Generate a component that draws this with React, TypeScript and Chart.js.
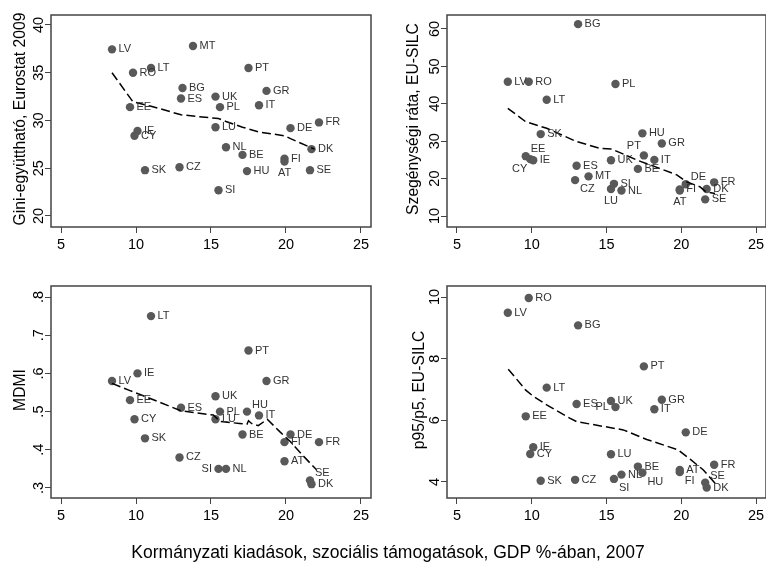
import React, { useEffect, useRef } from 'react';
import { Chart, registerables } from 'chart.js';

Chart.register(...registerables);

// ---------------- data ----------------
const countries = ['LV', 'RO', 'EE', 'CY', 'IE', 'SK', 'LT', 'CZ', 'ES', 'BG', 'MT', 'UK', 'LU', 'SI', 'PL', 'NL', 'BE', 'HU', 'PT', 'IT', 'GR', 'FI', 'AT', 'DE', 'SE', 'DK', 'FR'];
const socialSpending = [8.4, 9.8, 9.6, 9.9, 10.1, 10.6, 11.0, 12.9, 13.0, 13.1, 13.8, 15.3, 15.3, 15.5, 15.6, 16.0, 17.1, 17.4, 17.5, 18.2, 18.7, 19.9, 19.9, 20.3, 21.6, 21.7, 22.2];
const giniValues = [37.45, 35.0, 31.4, 28.4, 28.9, 24.8, 35.5, 25.1, 32.3, 33.4, 37.8, 32.5, 29.3, 22.7, 31.4, 27.2, 26.4, 24.7, 35.5, 31.6, 33.1, 26.0, 25.7, 29.2, 24.8, 27.0, 29.8];
const povertyValues = [45.9, 45.9, 26.0, 25.2, 24.9, 31.9, 41.1, 19.6, 23.45, 61.3, 20.6, 24.9, 17.2, 18.6, 45.3, 16.8, 22.6, 32.1, 26.2, 25.0, 29.4, 17.1, 16.8, 18.5, 14.45, 17.2, 19.0];
const mdmiValues = [0.58, null, 0.53, 0.48, 0.60, 0.43, 0.75, 0.38, 0.51, null, null, 0.54, 0.48, 0.35, 0.50, 0.35, 0.44, 0.50, 0.66, 0.49, 0.58, 0.42, 0.37, 0.44, 0.32, 0.31, 0.42];
const p95p5Values = [9.49, 9.97, 6.13, 4.91, 5.13, 4.04, 7.06, 4.07, 6.53, 9.08, null, 6.63, 4.9, 4.1, 6.43, 4.24, 4.5, 4.3, 7.75, 6.36, 6.67, 4.32, 4.39, 5.61, 3.98, 3.82, 4.56];

// lowess curves
const giniLowessX = [8.4, 9.8, 11.0, 13.0, 15.5, 16.0, 17.1, 18.2, 19.9, 20.3, 21.9];
const giniLowessY = [35.0, 31.95, 31.5, 30.6, 30.2, 29.9, 29.3, 28.8, 28.4, 28.1, 27.0];
const povertyLowessX = [8.4, 9.6, 11.0, 13.0, 14.56, 15.35, 17.13, 18.24, 19.7, 20.32, 21.26, 21.63, 22.26];
const povertyLowessY = [38.8, 35.2, 33.45, 29.9, 28.1, 27.9, 24.8, 23.2, 21.0, 19.2, 17.8, 16.5, 16.0];
const mdmiLowessX = [8.4, 9.6, 10.9, 13.0, 15.15, 15.6, 16.9, 17.4, 17.5, 17.7, 18.15, 18.75, 19.6, 20.3, 21.15, 22.05];
const mdmiLowessY = [0.574, 0.555, 0.535, 0.502, 0.491, 0.474, 0.469, 0.467, 0.476, 0.469, 0.463, 0.48, 0.447, 0.421, 0.384, 0.347];
const p95LowessX = [8.43, 9.6, 10.08, 11.0, 12.54, 13.0, 13.9, 16.12, 17.69, 19.8, 20.59, 21.48, 22.26];
const p95LowessY = [7.66, 6.98, 6.79, 6.5, 6.07, 5.96, 5.88, 5.69, 5.38, 5.04, 4.74, 4.39, 3.96];

// ticks
const xTicks = [5, 10, 15, 20, 25];
const giniTicks = [20, 25, 30, 35, 40];
const giniTickLabels = ['20', '25', '30', '35', '40'];
const povertyTicks = [10, 20, 30, 40, 50, 60];
const povertyTickLabels = ['10', '20', '30', '40', '50', '60'];
const mdmiTicks = [0.3, 0.4, 0.5, 0.6, 0.7, 0.8];
const mdmiTickLabels = ['.3', '.4', '.5', '.6', '.7', '.8'];
const p95Ticks = [4, 6, 8, 10];
const p95TickLabels = ['4', '6', '8', '10'];

const xTitle = 'Kormányzati kiadások, szociális támogatások, GDP %-ában, 2007';

// ---------------- styles ----------------
const FONT = '"Liberation Sans", Arial, Helvetica, sans-serif';
const clockOffsets: Record<number, { dx: number; dy: number; align: CanvasTextAlign }> = {
  3: { dx: 6.5, dy: 0, align: 'left' },
  9: { dx: -6.5, dy: 0, align: 'right' },
  1: { dx: 5, dy: -7, align: 'left' },
  11: { dx: -3, dy: -9, align: 'right' },
  5: { dx: 5, dy: 9, align: 'left' },
  7: { dx: -3, dy: 10, align: 'right' },
  6: { dx: 0, dy: 11.5, align: 'center' },
  12: { dx: 0, dy: -11, align: 'center' },
};

type PanelCfg = {
  values: (number | null)[];
  lowX: number[];
  lowY: number[];
  yTicks: number[];
  yTickLabels: string[];
  yMin: number;
  yMax: number;
  title: string;
  titleBaseline: number;
  left: number;
  top: number;
  width: number;
  height: number;
  area: { l: number; t: number; r: number; b: number };
  labelPos: Record<string, number>;
};

const panels: PanelCfg[] = [
  {
    values: giniValues, lowX: giniLowessX, lowY: giniLowessY,
    yTicks: giniTicks, yTickLabels: giniTickLabels, yMin: 18.848, yMax: 41.047,
    title: 'Gini-együttható, Eurostat 2009', titleBaseline: 24.5,
    left: 0, top: 0, width: 383, height: 270, area: { l: 51, t: 15, r: 371, b: 227 },
    labelPos: { AT: 6 },
  },
  {
    values: povertyValues, lowX: povertyLowessX, lowY: povertyLowessY,
    yTicks: povertyTicks, yTickLabels: povertyTickLabels, yMin: 7.06, yMax: 63.74,
    title: 'Szegénységi ráta, EU-SILC', titleBaseline: 35,
    left: 383, top: 0, width: 390, height: 270, area: { l: 64, t: 15, r: 383, b: 227 },
    labelPos: { PT: 11, EE: 1, CY: 7, CZ: 5, LU: 6, DE: 1, AT: 6 },
  },
  {
    values: mdmiValues, lowX: mdmiLowessX, lowY: mdmiLowessY,
    yTicks: mdmiTicks, yTickLabels: mdmiTickLabels, yMin: 0.2738, yMax: 0.8288,
    title: 'MDMI', titleBaseline: 25,
    left: 0, top: 270, width: 383, height: 292, area: { l: 51, t: 16, r: 371, b: 228 },
    labelPos: { HU: 1, SI: 9, SE: 1 },
  },
  {
    values: p95p5Values, lowX: p95LowessX, lowY: p95LowessY,
    yTicks: p95Ticks, yTickLabels: p95TickLabels, yMin: 3.481, yMax: 10.357,
    title: 'p95/p5, EU-SILC', titleBaseline: 40.5,
    left: 383, top: 270, width: 390, height: 292, area: { l: 64, t: 16, r: 383, b: 228 },
    labelPos: { PL: 9, HU: 5, FI: 5, SI: 5, SE: 1 },
  },
];

function Panel({ cfg }: { cfg: PanelCfg }) {
  const ref = useRef<HTMLCanvasElement | null>(null);
  useEffect(() => {
    if (!ref.current) return;
    const codes: string[] = [];
    const pts: { x: number; y: number }[] = [];
    countries.forEach((c, i) => {
      const v = cfg.values[i];
      if (v !== null && v !== undefined) {
        codes.push(c);
        pts.push({ x: socialSpending[i], y: v });
      }
    });
    const line = cfg.lowX.map((x, i) => ({ x, y: cfg.lowY[i] }));

    const decor = {
      id: 'decor',
      afterDatasetsDraw(chart: any) {
        const ctx = chart.ctx as CanvasRenderingContext2D;
        const a = chart.chartArea;
        // marker labels
        const meta = chart.getDatasetMeta(1);
        ctx.save();
        ctx.font = `11px ${FONT}`;
        ctx.fillStyle = '#333';
        ctx.textBaseline = 'middle';
        meta.data.forEach((el: any, i: number) => {
          const pos = cfg.labelPos[codes[i]] ?? 3;
          const o = clockOffsets[pos];
          ctx.textAlign = o.align;
          ctx.fillText(codes[i], el.x + o.dx, el.y + o.dy);
        });
        ctx.restore();
        // frame
        ctx.save();
        ctx.strokeStyle = '#444';
        ctx.lineWidth = 1.5;
        ctx.strokeRect(a.left, a.top, a.right - a.left, a.bottom - a.top);
        ctx.restore();
        // y tick labels (rotated)
        const ys = chart.scales.y;
        ctx.save();
        ctx.font = `14.5px ${FONT}`;
        ctx.fillStyle = '#000';
        ctx.textAlign = 'center';
        ctx.textBaseline = 'alphabetic';
        cfg.yTicks.forEach((v, i) => {
          const py = ys.getPixelForValue(v);
          ctx.save();
          ctx.translate(a.left - 8, py);
          ctx.rotate(-Math.PI / 2);
          ctx.fillText(cfg.yTickLabels[i], 0, 0);
          ctx.restore();
        });
        // y title
        ctx.font = `15.7px ${FONT}`;
        ctx.translate(cfg.titleBaseline, (a.top + a.bottom) / 2 - 2);
        ctx.rotate(-Math.PI / 2);
        ctx.fillText(cfg.title, 0, 0);
        ctx.restore();
      },
    };

    const chart = new Chart(ref.current, {
      type: 'scatter',
      data: {
        datasets: [
          {
            type: 'line',
            data: line,
            borderColor: '#000',
            borderWidth: 1.5,
            borderDash: [9, 4],
            pointRadius: 0,
            fill: false,
            tension: 0,
          } as any,
          {
            type: 'scatter',
            data: pts,
            pointRadius: 4.2,
            pointHoverRadius: 4.2,
            backgroundColor: '#595959',
            borderWidth: 0,
          },
        ],
      },
      options: {
        animation: false,
        responsive: false,
        devicePixelRatio: 1,
        events: [],
        layout: {
          autoPadding: false,
          padding: { left: 0, top: cfg.area.t, right: cfg.width - cfg.area.r, bottom: 0 },
        },
        plugins: { legend: { display: false }, tooltip: { enabled: false } },
        scales: {
          x: {
            type: 'linear',
            min: 4.333,
            max: 25.667,
            afterBuildTicks: (s: any) => { s.ticks = xTicks.map((v) => ({ value: v })); },
            afterFit: (s: any) => { s.height = cfg.height - cfg.area.b; },
            grid: { drawOnChartArea: false, drawTicks: true, tickLength: 6, color: '#444', lineWidth: 1 },
            border: { display: false },
            ticks: { font: { family: FONT, size: 14.5 }, color: '#000', padding: 3, maxRotation: 0, minRotation: 0, autoSkip: false },
          },
          y: {
            type: 'linear',
            min: cfg.yMin,
            max: cfg.yMax,
            afterBuildTicks: (s: any) => { s.ticks = cfg.yTicks.map((v) => ({ value: v })); },
            afterFit: (s: any) => { s.width = cfg.area.l; },
            grid: { drawOnChartArea: false, drawTicks: true, tickLength: 6, color: '#444', lineWidth: 1 },
            border: { display: false },
            ticks: { display: false },
          },
        },
      } as any,
      plugins: [decor],
    });
    return () => chart.destroy();
  }, [cfg]);

  return (
    <canvas
      ref={ref}
      width={cfg.width}
      height={cfg.height}
      style={{ position: 'absolute', left: cfg.left, top: cfg.top, width: cfg.width, height: cfg.height }}
    />
  );
}

export default function App() {
  return (
    <div style={{ position: 'absolute', left: 0, top: 0, width: 766, height: 562, overflow: 'hidden', background: '#fff' }}>
      {panels.map((p, i) => (
        <Panel key={i} cfg={p} />
      ))}
      <div
        style={{
          position: 'absolute',
          left: 0,
          top: 542,
          width: 776,
          textAlign: 'center',
          font: `17.5px ${FONT}`,
          lineHeight: '20px',
          color: '#000',
          whiteSpace: 'nowrap',
        }}
      >
        {xTitle}
      </div>
    </div>
  );
}
